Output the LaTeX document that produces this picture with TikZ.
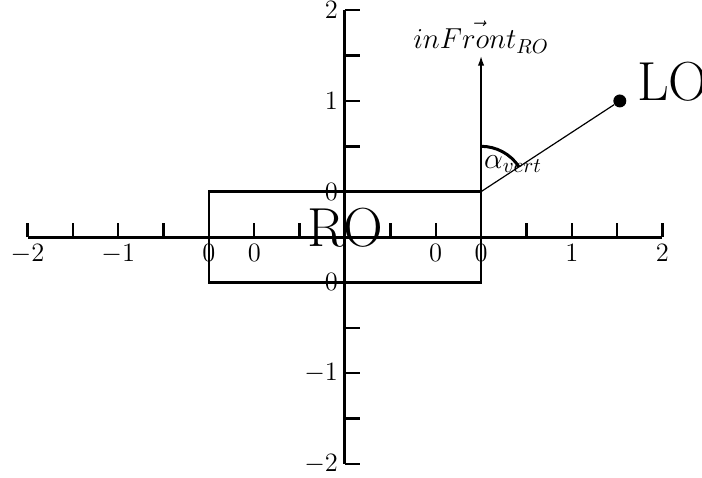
\RequirePackage{fix-cm}
\documentclass[tikz,border=0pt]{standalone}
\usepackage{amsmath}
\usetikzlibrary{arrows.meta}

\newcommand{\axfont}{\fontsize{13.3}{16}\selectfont}
\newcommand{\bigfont}{\fontsize{27.6}{30}\selectfont}

\begin{document}
\begin{tikzpicture}[x=0.8cm, y=0.8cm, >={Latex[length=5pt,width=3.2pt]},
	every node/.style={font=\axfont},
	axis/.style={line width=1.5pt},
	axtick/.style={line width=1.2pt}]
	\useasboundingbox (-7.607,-5.292) rectangle (7.872,5.226);
	% axes with ticks
	\draw[axis] (-7,0) -- (7,0);
	\draw[axis] (0,-5) -- (0,5);
	\foreach \i in {-7,...,7} \draw[axtick] (\i,0) -- (\i,0.3);
	\foreach \j in {-5,...,5} \draw[axtick] (0,\j) -- (0.33,\j);
	\foreach \i/\t in {-7/-2, -5/-1, -3/0, -2/0, 2/0, 3/0, 5/1, 7/2}
		\node[below] (xl\i) at (\i,0) {$\t$};
	\foreach \j/\t in {5/2, 3/1, 1/0, -1/0, -3/-1, -5/-2}
		\node[left] (yl\j) at (0,\j) {$\t$};
	% RO box
	\draw[line width=1.2pt] (-3,-1) rectangle (3,1);
	\node[font=\bigfont] (ro) at (0,0.2) {RO};
	% front vector and LO
	\coordinate (corner) at (3,1);
	\coordinate (tip) at (3,4);
	\draw[->, line width=0.9pt] (corner) -- (tip);
	\node[above, inner sep=1pt, font=\fontsize{14.5}{17}\selectfont] (front) at (tip) {$in\vec{Front}_{RO}$};
	\node[circle, fill, inner sep=0pt, minimum size=6.5pt] (lo) at (6.06,3) {};
	\node[anchor=base west, inner sep=0pt, xshift=5pt, font=\bigfont] (lolabel) at (lo.east) {LO};
	\draw[line width=0.6pt] (corner) -- (lo);
	\draw[line width=1.5pt] (3,2) arc[start angle=90, end angle=33.3, radius=1];
	\node[anchor=base west, inner sep=0pt, font=\fontsize{15}{18}\selectfont] (alpha) at (3.06,1.52) {$\alpha_{vert}$};
\end{tikzpicture}
\end{document}
